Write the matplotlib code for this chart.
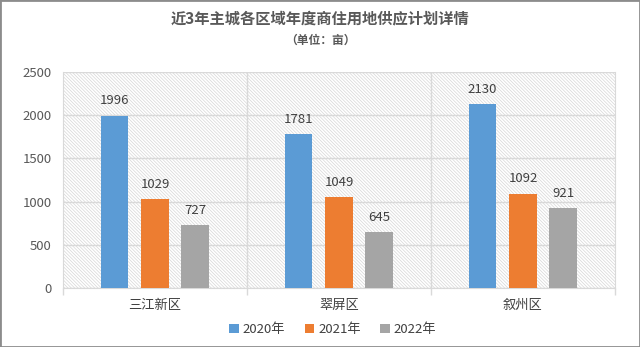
import matplotlib.pyplot as plt
import numpy as np
from matplotlib.patches import Rectangle

plt.rcParams['font.family'] = ['Noto Sans CJK SC', 'DejaVu Sans']
plt.rcParams['hatch.color'] = '#d6d6d6'
plt.rcParams['hatch.linewidth'] = 0.5

categories = ['三江新区', '翠屏区', '叙州区']
series_names = ['2020年', '2021年', '2022年']
v2020 = [1996, 1781, 2130]
v2021 = [1029, 1049, 1092]
v2022 = [727, 645, 921]
colors = ['#5b9bd5', '#ed7d31', '#a5a5a5']

fig = plt.figure(figsize=(6.4, 3.47), dpi=100)
ax = fig.add_axes([0.0984, 0.170, 0.8625, 0.6225])

x = np.arange(len(categories))
w = 0.152
step = 0.22
for i, (vals, name, c) in enumerate(zip([v2020, v2021, v2022], series_names, colors)):
    pos = x + (i - 1) * step
    ax.bar(pos, vals, width=w, color=c, label=name, zorder=3)
    for p, v in zip(pos, vals):
        ax.text(p, v + 95, str(v), ha='center', va='bottom', fontsize=9.5, color='#404040', zorder=4)

ax.set_xlim(-0.5, 2.5)
ax.set_ylim(0, 2500)
ax.set_yticks(range(0, 2501, 500))
ax.set_facecolor('white')
bg = Rectangle((0, 0), 1, 1, transform=ax.transAxes, facecolor='white', edgecolor='#d6d6d6',
               hatch='\\' * 10, linewidth=0, zorder=0)
ax.add_patch(bg)

ax.grid(axis='y', color='#d9d9d9', linewidth=1, zorder=1)
for b in [0.5, 1.5]:
    ax.axvline(b, color='#d9d9d9', linewidth=1, zorder=1)

ax.spines['top'].set_visible(False)
ax.spines['left'].set_color('#d9d9d9')
ax.spines['right'].set_color('#d9d9d9')
ax.spines['bottom'].set_color('#d9d9d9')

ax.set_xticks([-0.5, 0.5, 1.5, 2.5], minor=False)
ax.set_xticklabels([])
ax.set_xticks(x, minor=True)
ax.set_xticklabels(categories, minor=True)
ax.tick_params(axis='x', which='major', length=5, color='#d9d9d9', width=1)
ax.tick_params(axis='x', which='minor', length=0, labelsize=9.5, labelcolor='#404040', pad=8)
ax.tick_params(axis='y', length=0, labelsize=9.5, labelcolor='#595959', pad=8)

fig.text(0.5, 0.948, '近3年主城各区域年度商住用地供应计划详情', ha='center', va='center',
         fontsize=11, fontweight='bold', color='#595959')
fig.text(0.5, 0.885, '（单位：亩）', ha='center', va='center',
         fontsize=8.5, fontweight='bold', color='#595959')

leg = fig.legend(loc='center', bbox_to_anchor=(0.52, 0.05), ncol=3, frameon=False,
                 fontsize=9.5, handlelength=0.7, handleheight=0.7, handletextpad=0.3,
                 columnspacing=1.5)
for t in leg.get_texts():
    t.set_color('#404040')

fig.add_artist(Rectangle((0, 0), 1, 1, transform=fig.transFigure, fill=False,
                         edgecolor='#8c8c8c', linewidth=2))

fig.savefig('out.png', dpi=100)
